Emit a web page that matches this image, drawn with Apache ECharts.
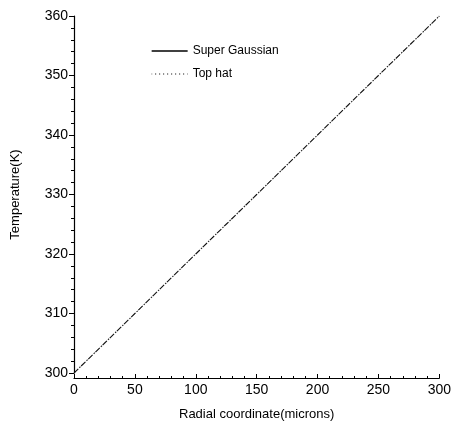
<!DOCTYPE html>
<html>
<head>
<meta charset="utf-8">
<style>
  html, body { margin: 0; padding: 0; background: #fff; }
  #chart { width: 454px; height: 432px; }
</style>
<script src="https://cdn.jsdelivr.net/npm/echarts@6/dist/echarts.min.js"></script>
</head>
<body>
<div id="chart"></div>
<script>
// Radial positions (microns)
const radius = [0, 25, 50, 75, 100, 125, 150, 175, 200, 225, 250, 275, 300];
// Temperature profiles (K)
const superGaussian = [300, 305, 310, 315, 320, 325, 330, 335, 340, 345, 350, 355, 360];
const topHat        = [300, 305, 310, 315, 320, 325, 330, 335, 340, 345, 350, 355, 360];
const seriesNames = ['Super Gaussian', 'Top hat'];

const font = 'Liberation Sans, Arial, sans-serif';
const chart = echarts.init(document.getElementById('chart'));

chart.setOption({
  animation: false,
  backgroundColor: '#fff',
  color: ['#000', '#000'],
  grid: { left: 74, right: 10, top: 16, bottom: 59 },
  legend: {
    orient: 'vertical',
    left: 146,
    top: 40,
    itemWidth: 36,
    itemHeight: 10,
    itemGap: 11,
    itemStyle: { opacity: 0 },
    textStyle: { fontFamily: font, fontSize: 12, color: '#000' },
    data: [
      { name: seriesNames[0], lineStyle: { type: 'solid', width: 1.3, color: '#000' } },
      { name: seriesNames[1], lineStyle: { type: [1, 3], width: 1.2, color: '#000' } }
    ]
  },
  xAxis: {
    type: 'value',
    min: 0, max: 300, interval: 50,
    offset: 5,
    name: 'Radial coordinate(microns)',
    nameLocation: 'middle',
    nameGap: 30,
    nameTextStyle: { fontFamily: font, fontSize: 13, color: '#000' },
    axisLine: { show: true, lineStyle: { color: '#000', width: 1.2 } },
    axisTick: { show: true, inside: true, length: 4, lineStyle: { color: '#000' } },
    minorTick: { show: true, splitNumber: 5, length: 2, lineStyle: { color: '#000' } },
    axisLabel: { fontFamily: font, fontSize: 14, color: '#000', margin: 5 },
    splitLine: { show: false }
  },
  yAxis: {
    type: 'value',
    min: 300, max: 360, interval: 10,
    name: 'Temperature(K)',
    nameLocation: 'middle',
    nameGap: 52,
    nameTextStyle: { fontFamily: font, fontSize: 13, color: '#000' },
    axisLine: { show: true, lineStyle: { color: '#000', width: 1.2 } },
    axisTick: { show: true, length: 5, lineStyle: { color: '#000' } },
    minorTick: { show: true, splitNumber: 5, length: 3, lineStyle: { color: '#000' } },
    axisLabel: { fontFamily: font, fontSize: 14, color: '#000', margin: 6 },
    splitLine: { show: false }
  },
  series: [
    {
      name: seriesNames[0],
      type: 'line',
      symbol: 'none',
      data: radius.map((r, i) => [r, superGaussian[i]]),
      lineStyle: { color: '#111', width: 1.1, type: [6, 4] }
    },
    {
      name: seriesNames[1],
      type: 'line',
      symbol: 'none',
      data: radius.map((r, i) => [r, topHat[i]]),
      lineStyle: { color: '#222', width: 1.1, type: [1.5, 8.5], dashOffset: -7.5 }
    }
  ]
});
</script>
</body>
</html>
